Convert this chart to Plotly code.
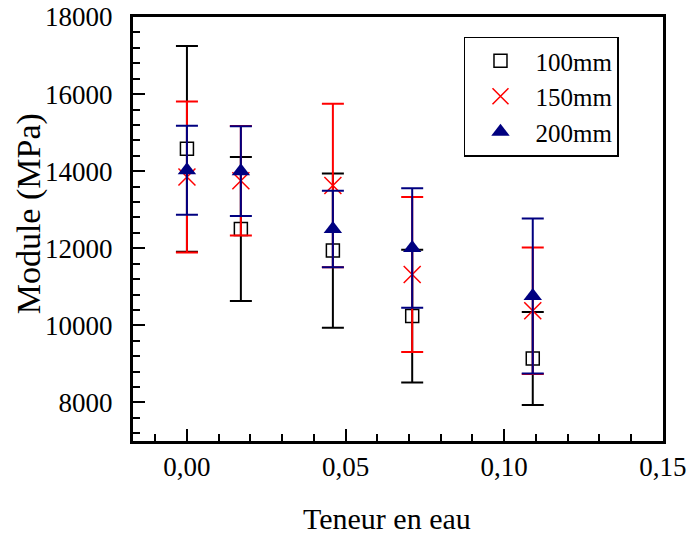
import plotly.graph_objects as go

# Data
teneur = [0.0, 0.017, 0.046, 0.071, 0.109]

module_100 = [14580, 12500, 11940, 10240, 9140]
err_100 = [2670, 1870, 2000, 1720, 1205]

module_150 = [13850, 13750, 13630, 11320, 10380]
err_150 = [1960, 1420, 2120, 2010, 1640]

module_200 = [14025, 14000, 12500, 12010, 10760]
err_200 = [1155, 1165, 995, 1550, 2010]

x_tickvals = [0.0, 0.05, 0.10, 0.15]
x_ticktext = ["0,00", "0,05", "0,10", "0,15"]
y_tickvals = [8000, 10000, 12000, 14000, 16000, 18000]
y_ticktext = ["8000", "10000", "12000", "14000", "16000", "18000"]

x_title = "Teneur en eau"
y_title = "Module (MPa)"

FONT = "Liberation Serif"

fig = go.Figure()

fig.add_trace(go.Scatter(
    x=teneur, y=module_100, name="100mm", mode="markers",
    marker=dict(symbol="square-open", size=13, color="black", line=dict(width=1.5, color="black")),
    error_y=dict(type="data", array=err_100, visible=True, color="black", thickness=2, width=11),
))
fig.add_trace(go.Scatter(
    x=teneur, y=module_150, name="150mm", mode="markers",
    marker=dict(symbol="x-thin", size=17, color="red", line=dict(width=1.5, color="red")),
    error_y=dict(type="data", array=err_150, visible=True, color="red", thickness=2, width=11),
))
fig.add_trace(go.Scatter(
    x=teneur, y=module_200, name="200mm", mode="markers",
    marker=dict(symbol="triangle-up", size=16, color="#000080"),
    error_y=dict(type="data", array=err_200, visible=True, color="#000080", thickness=2, width=11),
))

fig.update_layout(
    width=687, height=535,
    margin=dict(l=133, r=24, t=17, b=94, autoexpand=False),
    paper_bgcolor="white", plot_bgcolor="white",
    font=dict(family=FONT, size=24, color="black"),
    showlegend=True,
    legend=dict(
        x=0.6245, y=0.954, xanchor="left", yanchor="top",
        bordercolor="black", borderwidth=1.5, bgcolor="white",
        font=dict(family=FONT, size=25, color="black"),
        itemwidth=60,
    ),
    xaxis=dict(
        range=[-0.017, 0.15005], automargin=False,
        tickmode="array", tickvals=x_tickvals, ticktext=x_ticktext,
        ticks="inside", ticklen=12, tickwidth=2, tickcolor="black",
        minor=dict(tickmode="linear", tick0=0, dtick=0.01, ticks="inside", ticklen=7, tickwidth=1.5, tickcolor="black"),
        showline=True, linewidth=3, linecolor="black", mirror=True,
        showgrid=False, zeroline=False,
        tickfont=dict(family=FONT, size=27, color="black"),
    ),
    yaxis=dict(
        range=[7000, 18000], automargin=False,
        tickmode="array", tickvals=y_tickvals, ticktext=y_ticktext,
        ticks="inside", ticklen=12, tickwidth=2, tickcolor="black",
        minor=dict(tickmode="linear", tick0=0, dtick=400, ticks="inside", ticklen=7, tickwidth=1.5, tickcolor="black"),
        showline=True, linewidth=3, linecolor="black", mirror=True,
        showgrid=False, zeroline=False,
        tickfont=dict(family=FONT, size=27, color="black"),
        ticklabelstandoff=12,
    ),
    annotations=[
        dict(text=x_title, xref="paper", yref="paper", x=0.479, y=-0.182,
             xanchor="center", yanchor="middle", showarrow=False,
             font=dict(family=FONT, size=30, color="black")),
        dict(text=y_title, xref="paper", yref="paper", x=-0.197, y=0.536,
             xanchor="center", yanchor="middle", showarrow=False, textangle=-90,
             font=dict(family=FONT, size=34, color="black")),
    ],
)

fig.write_html(
    "out.html",
    config={"displayModeBar": False},
    post_script="document.body.style.margin='0';document.body.style.padding='0';",
)
